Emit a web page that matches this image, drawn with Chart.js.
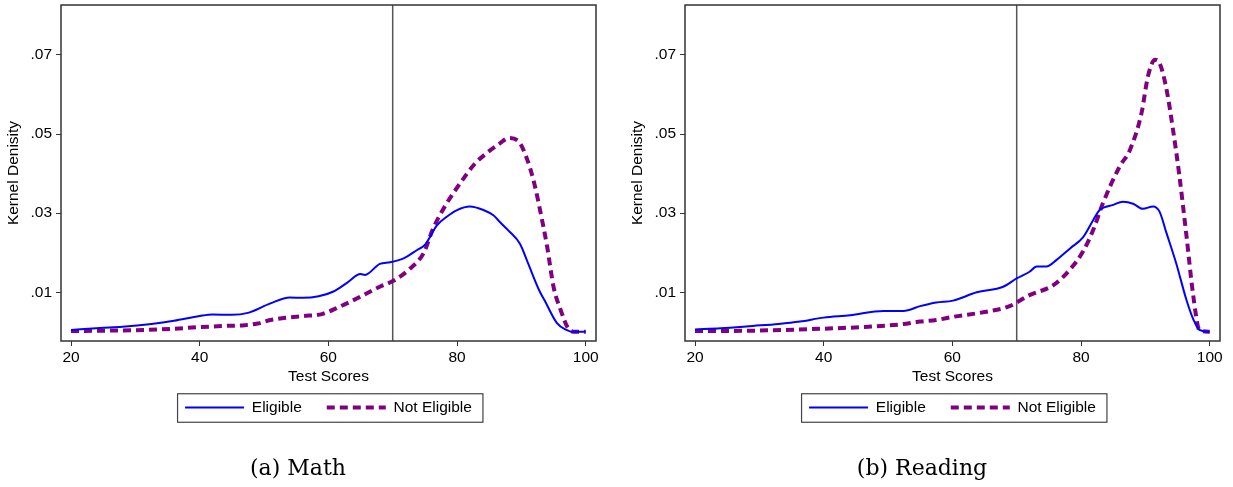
<!DOCTYPE html>
<html>
<head>
<meta charset="utf-8">
<title>Kernel Density by Eligibility</title>
<script src="https://cdn.jsdelivr.net/npm/chart.js@4.4.1/dist/chart.umd.min.js"></script>
<style>
  body { margin: 0; background: #fff; }
  #math { position: absolute; left: 0; top: 0; }
  #reading { position: absolute; left: 624px; top: 0; }
</style>
</head>
<body>
<canvas id="math" width="601" height="487"></canvas>
<canvas id="reading" width="601" height="487"></canvas>
<script>
'use strict';

let xTicks = [20, 40, 60, 80, 100];
let yTicks = [0.01, 0.03, 0.05, 0.07];
let cutoff = 70;
let seriesNames = ['Eligible', 'Not Eligible'];

// (a) Math
let mathEligibleX = [20, 24.5, 28, 32.5, 36, 40, 42, 45, 47.5, 51, 54, 56, 58.5, 60.8, 62.9, 65, 65.7, 68, 69.6, 71.7, 73.8, 75, 76.9, 78.4, 80, 82, 84.1, 85.7, 86.7, 88, 89.8, 91, 92.8, 93.6, 95.5, 97, 98, 100];
let mathEligible = [0.0005, 0.001, 0.0013, 0.002, 0.0028, 0.004, 0.0044, 0.0043, 0.0048, 0.0072, 0.0087, 0.0086, 0.009, 0.0102, 0.0124, 0.0146, 0.0144, 0.0172, 0.0176, 0.0186, 0.0207, 0.022, 0.027, 0.0291, 0.0308, 0.0317, 0.0308, 0.0294, 0.0277, 0.0256, 0.0222, 0.0175, 0.0104, 0.008, 0.0023, 0.0005, 0, 0];
let mathNotX = [20, 25, 32, 36, 40, 44, 47, 49, 51, 53, 56, 59, 61.8, 65, 68, 70.1, 72.7, 74.8, 76.3, 78.4, 80.5, 82.6, 84.6, 86.7, 88, 89.6, 90.9, 92, 93, 94, 95, 96, 97.6, 98.5, 100];
let mathNot = [0.0002, 0.0003, 0.0005, 0.0008, 0.0012, 0.0015, 0.0017, 0.0021, 0.003, 0.0035, 0.004, 0.0045, 0.0064, 0.0089, 0.0114, 0.0129, 0.016, 0.0199, 0.0262, 0.0325, 0.0376, 0.0422, 0.0452, 0.0477, 0.049, 0.0481, 0.0436, 0.0376, 0.03, 0.0216, 0.0114, 0.006, 0.0003, 0, 0];

// (b) Reading
let readEligibleX = [20, 24, 29, 33, 36.3, 40, 44.1, 49.3, 52.4, 55, 57.5, 60.1, 63.8, 67.9, 70, 72, 73.1, 74.6, 76.2, 78.3, 80.3, 81.9, 82.9, 85, 86.5, 88.1, 89.6, 91.2, 92.2, 93.3, 94.8, 96.4, 97.5, 98.4, 100];
let readEligible = [0.0006, 0.0009, 0.0015, 0.002, 0.0026, 0.0036, 0.0042, 0.0053, 0.0053, 0.0065, 0.0074, 0.0079, 0.01, 0.0114, 0.0135, 0.0152, 0.0165, 0.0165, 0.0182, 0.0211, 0.0239, 0.0283, 0.0308, 0.0321, 0.0329, 0.0324, 0.0311, 0.0317, 0.0304, 0.0249, 0.0173, 0.008, 0.003, 0.0005, 0];
let readNotX = [20, 29, 40, 47, 52, 55, 57.5, 60.1, 65.3, 68.9, 72, 75.7, 78.3, 80.3, 81.9, 83.4, 86, 87.6, 89.4, 90.4, 91.5, 92.2, 93.3, 94.3, 95.3, 96.4, 97.4, 98.4, 100];
let readNot = [0.0002, 0.0003, 0.0008, 0.0013, 0.0019, 0.0026, 0.003, 0.0038, 0.0051, 0.0065, 0.0093, 0.0118, 0.0158, 0.0203, 0.0258, 0.0325, 0.0418, 0.046, 0.0553, 0.0646, 0.0688, 0.068, 0.0612, 0.0511, 0.0393, 0.0241, 0.0097, 0.0005, 0];

Chart.defaults.font.family = '"Liberation Sans", Arial, sans-serif';
Chart.defaults.font.size = 15.5;
Chart.defaults.color = '#000';

function toPoints(xs, ys) {
  let pts = [];
  for (let i = 0; i < xs.length; i++) {
    pts.push({ x: xs[i], y: ys[i] });
  }
  return pts;
}

// vertical cutoff line, full frame and the box around the legend
let framePlugin = {
  id: 'frame',
  beforeDatasetsDraw(chart) {
    let ctx = chart.ctx;
    let area = chart.chartArea;
    let x = chart.scales.x.getPixelForValue(cutoff);
    ctx.save();
    ctx.strokeStyle = '#555';
    ctx.lineWidth = 1.5;
    ctx.beginPath();
    ctx.moveTo(x, area.top);
    ctx.lineTo(x, area.bottom);
    ctx.stroke();
    ctx.restore();
  },
  afterDraw(chart) {
    let ctx = chart.ctx;
    let area = chart.chartArea;
    ctx.save();
    ctx.strokeStyle = '#333';
    ctx.lineWidth = 1.5;
    ctx.strokeRect(area.left, area.top, area.right - area.left, area.bottom - area.top);
    let boxes = chart.legend.legendHitBoxes;
    if (boxes && boxes.length) {
      let first = boxes[0];
      let last = boxes[boxes.length - 1];
      ctx.strokeStyle = '#444';
      ctx.lineWidth = 1.2;
      ctx.strokeRect(first.left - 7.5, first.top - 6, last.left + last.width + 11 - (first.left - 7.5), first.height + 13);
    }
    ctx.restore();
  }
};

// no extra room for end labels, the frame is placed by hand
function noEdgePadding(axis) {
  axis.paddingTop = 0;
  axis.paddingBottom = 0;
  axis.paddingLeft = 0;
  axis.paddingRight = 0;
}

// legend swatches keep the dataset dash and width
function legendLabels(chart) {
  let items = Chart.defaults.plugins.legend.labels.generateLabels(chart);
  items.forEach(item => {
    let ds = chart.data.datasets[item.datasetIndex];
    item.lineDash = ds.borderDash || [];
    item.lineWidth = ds.borderWidth;
    item.strokeStyle = ds.borderColor;
  });
  return items;
}

function makePanel(id, eligX, elig, notX, notElig, caption) {
  let ctx = document.getElementById(id);
  return new Chart(ctx, {
    type: 'line',
    data: {
      datasets: [{
        label: seriesNames[0],
        data: toPoints(eligX, elig),
        borderColor: '#0000ff',
        backgroundColor: '#0000ff',
        borderWidth: 2,
        pointRadius: 0,
        pointStyle: 'line',
        cubicInterpolationMode: 'monotone'
      },
      {
        label: seriesNames[1],
        data: toPoints(notX, notElig),
        borderColor: '#800080',
        backgroundColor: '#800080',
        borderWidth: 4,
        borderDash: [8, 5],
        pointRadius: 0,
        pointStyle: 'line',
        cubicInterpolationMode: 'monotone'
      }]
    },
    options: {
      responsive: false,
      animation: false,
      layout: { padding: { top: 5, right: 5, left: 0, bottom: 0 } },
      scales: {
        x: {
          type: 'linear',
          min: 18.445,
          max: 101.6,
          afterBuildTicks: (axis) => { axis.ticks = xTicks.map(v => ({ value: v })); },
          afterFit: (axis) => { axis.height = 33.75; noEdgePadding(axis); },
          ticks: { padding: 2.5, maxRotation: 0, callback: (v) => String(v) },
          grid: { display: true, drawOnChartArea: false, drawTicks: true, tickLength: 5, color: '#333' },
          border: { display: false },
          title: { display: true, text: 'Test Scores', padding: { top: 0, bottom: -11 } }
        },
        y: {
          min: -0.00231,
          max: 0.08264,
          afterBuildTicks: (axis) => { axis.ticks = yTicks.map(v => ({ value: v })); },
          afterFit: (axis) => { axis.width = 61; noEdgePadding(axis); },
          ticks: { padding: 4, callback: (v) => v.toFixed(2).replace(/^0/, '') },
          grid: { display: true, drawOnChartArea: false, drawTicks: true, tickLength: 5, color: '#333' },
          border: { display: false },
          title: { display: true, text: 'Kernel Denisity', padding: { top: 4.4, bottom: 0 } }
        }
      },
      plugins: {
        legend: {
          position: 'bottom',
          fullSize: false,
          labels: {
            usePointStyle: true,
            pointStyle: 'line',
            pointStyleWidth: 59,
            padding: 25,
            color: '#000',
            generateLabels: legendLabels
          }
        },
        title: {
          display: true,
          position: 'bottom',
          text: caption,
          color: '#000',
          font: { family: '"DejaVu Serif", "Liberation Serif", serif', size: 22, weight: 'normal' },
          padding: { top: 31, bottom: 4.35 }
        },
        tooltip: { enabled: false }
      }
    },
    plugins: [framePlugin]
  });
}

makePanel('math', mathEligibleX, mathEligible, mathNotX, mathNot, '(a) Math');
makePanel('reading', readEligibleX, readEligible, readNotX, readNot, '(b) Reading');
</script>
</body>
</html>
